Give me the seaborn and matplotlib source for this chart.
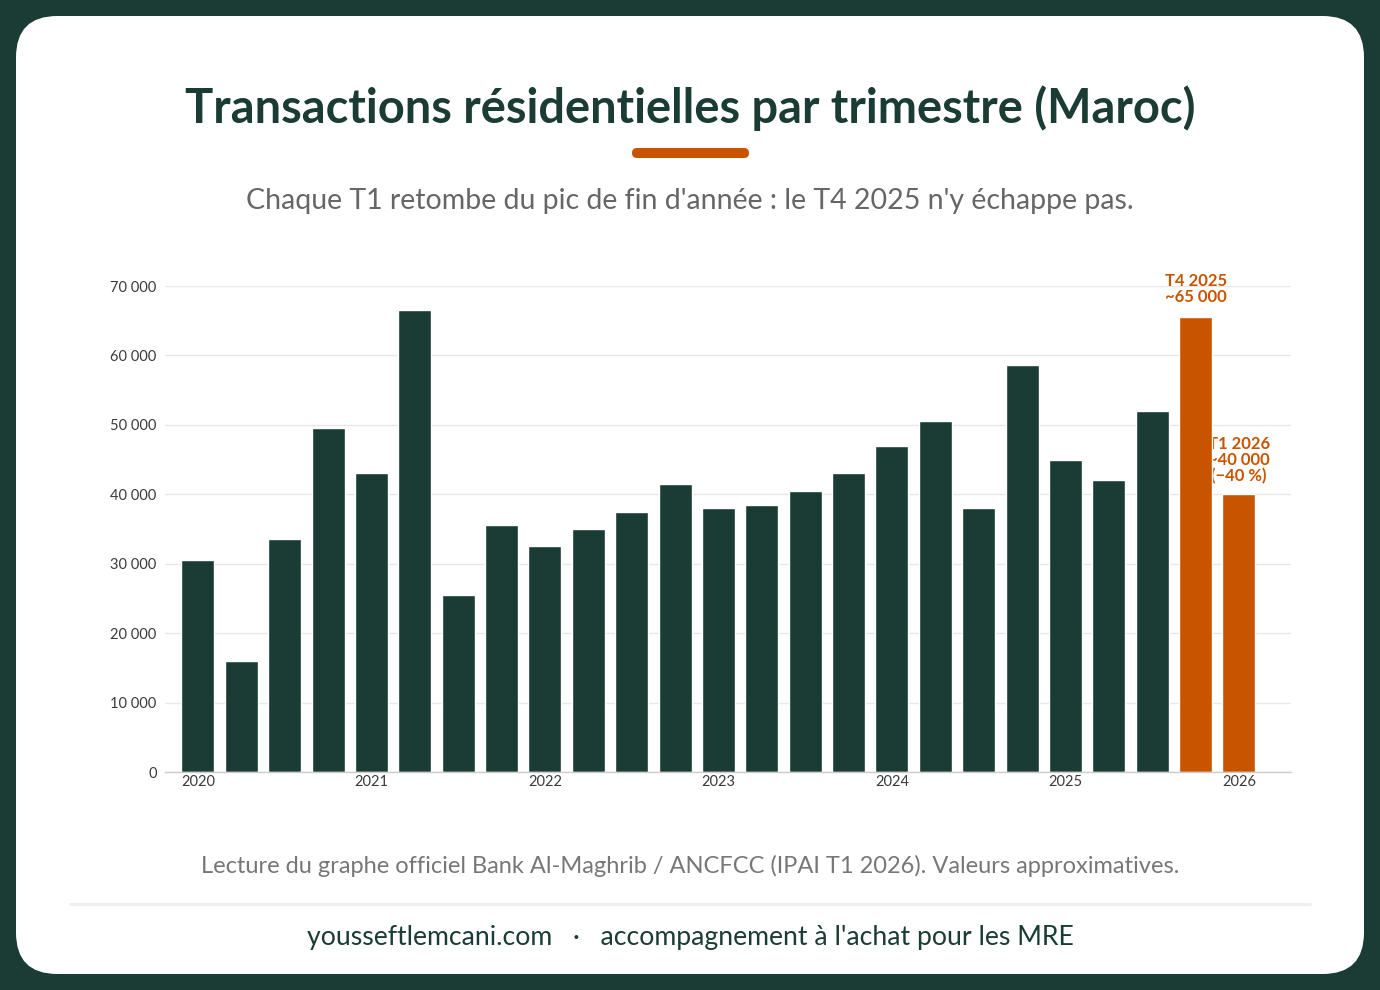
import matplotlib
matplotlib.use("Agg")
import matplotlib.pyplot as plt
import seaborn as sns
import numpy as np
import pandas as pd
from matplotlib.patches import FancyBboxPatch
from matplotlib.ticker import FuncFormatter

# ---- data ----
quarters = [f"{y} T{q}" for y in range(2020, 2026) for q in range(1, 5)] + ["2026 T1"]
values = [30500, 16000, 33600, 49500,
          43100, 66500, 25500, 35600,
          32600, 35000, 37500, 41500,
          38000, 38500, 40500, 43100,
          47000, 50600, 38000, 58600,
          45000, 42100, 52000, 65600,
          40100]
highlight = [False] * 23 + [True, True]
year_labels = ["2020", "2021", "2022", "2023", "2024", "2025", "2026"]

DARK = "#1b3c34"
ORANGE = "#c85400"
FONT = "Lato"

sns.set_theme(style="white")
plt.rcParams["font.family"] = [FONT, "DejaVu Sans"]

fig = plt.figure(figsize=(13.8, 9.9), dpi=100)
fig.patch.set_facecolor(DARK)

card = FancyBboxPatch((16 / 1380, 16 / 990), (1348) / 1380, (958) / 990,
                      boxstyle="round,pad=0,rounding_size=0.03",
                      transform=fig.transFigure, facecolor="white",
                      edgecolor="none", mutation_aspect=1380 / 990, zorder=-5)
fig.patches.append(card)

ax = fig.add_axes([165 / 1380, 1 - 772 / 990, (1291 - 165) / 1380, (772 - 286) / 990])
ax.set_facecolor("none")
ax.set_zorder(2)

df = pd.DataFrame({"q": quarters, "v": values, "h": highlight})
sns.barplot(data=df, x="q", y="v", hue="h", palette={False: DARK, True: ORANGE},
            legend=False, width=0.76, ax=ax, zorder=2, saturation=1)

ax.set_ylim(0, 70000)
ax.set_xlim(-0.76, 25.2)
ax.set_yticks(np.arange(0, 70001, 10000))
ax.yaxis.set_major_formatter(FuncFormatter(lambda v, p: f"{int(v):,}".replace(",", " ")))
ax.set_xticks([i * 4 for i in range(len(year_labels))])
ax.set_xticklabels(year_labels)
ax.tick_params(axis="both", labelsize=10.5, colors="#3a3a3a", length=0, pad=2)
ax.tick_params(axis="y", pad=6)
ax.set_xlabel("")
ax.set_ylabel("")
ax.grid(axis="y", color="#e8e8e8", linewidth=1)
ax.set_axisbelow(True)
for s in ["top", "right", "left"]:
    ax.spines[s].set_visible(False)
ax.spines["bottom"].set_color("#cccccc")
ax.spines["bottom"].set_linewidth(1)

# annotations
ax.text(23, values[23] + 1600, "T4 2025\n~65 000", ha="center", va="bottom",
        color=ORANGE, fontsize=12, fontweight="bold", linespacing=1.0,
        clip_on=False, zorder=1)
ax.text(24, values[24] + 1400, "T1 2026\n~40 000\n(−40 %)", ha="center", va="bottom",
        color=ORANGE, fontsize=12, fontweight="bold", linespacing=1.0,
        clip_on=False, zorder=1)

# titles
fig.text(0.5, 1 - 108 / 990, "Transactions résidentielles par trimestre (Maroc)",
         ha="center", va="center", fontsize=33.8, fontweight="bold", color=DARK)
accent = FancyBboxPatch((632 / 1380, 1 - 158 / 990), 117 / 1380, 10 / 990,
                        boxstyle="round,pad=0,rounding_size=0.0036",
                        transform=fig.transFigure, facecolor=ORANGE,
                        edgecolor="none", mutation_aspect=1380 / 990)
fig.patches.append(accent)
fig.text(0.5, 1 - 201 / 990, "Chaque T1 retombe du pic de fin d'année : le T4 2025 n'y échappe pas.",
         ha="center", va="center", fontsize=20.5, color="#666666")

fig.text(0.5, 1 - 866 / 990,
         "Lecture du graphe officiel Bank Al-Maghrib / ANCFCC (IPAI T1 2026). Valeurs approximatives.",
         ha="center", va="center", fontsize=17, color="#777777")
fig.add_artist(plt.Line2D([70 / 1380, 1310 / 1380], [1 - 904 / 990, 1 - 904 / 990],
                          transform=fig.transFigure, color="#eeeeee", linewidth=2))
fig.text(0.5, 1 - 937 / 990, "youssef­tlemcani.com   ·   accompagnement à l'achat pour les MRE".replace("\u00ad", ""),
         ha="center", va="center", fontsize=19.2, color=DARK)

fig.savefig("out.png", dpi=100, facecolor=fig.get_facecolor())
